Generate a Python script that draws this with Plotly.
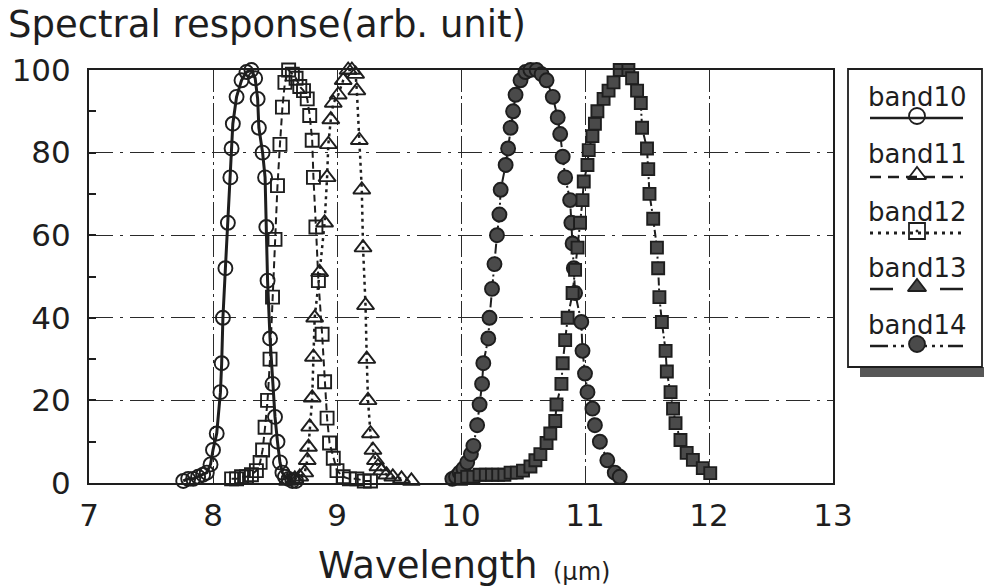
import plotly.graph_objects as go

# ---------------- data ----------------
band10_x = [7.76, 7.80, 7.84, 7.88, 7.92, 7.95, 7.98, 8.00, 8.03, 8.06, 8.07, 8.08, 8.10, 8.12, 8.14,
            8.15, 8.16, 8.19, 8.23, 8.27, 8.31, 8.34, 8.36, 8.37, 8.40, 8.42, 8.43, 8.44, 8.46, 8.48,
            8.50, 8.52, 8.54, 8.56, 8.58, 8.61, 8.64, 8.67]
band10_y = [0.5, 1, 1, 1.5, 2, 2.5, 4.5, 8, 12, 22, 29, 40, 52, 63, 74,
            81, 87, 93.5, 97.5, 99.5, 100, 98, 93, 86, 80, 74, 62, 49, 35, 24,
            16, 10, 5, 2.5, 1.5, 1, 0.5, 0.5]

band11_x = [8.15, 8.19, 8.23, 8.27, 8.31, 8.35, 8.38, 8.40, 8.42, 8.44, 8.46, 8.48, 8.50, 8.52, 8.54,
            8.56, 8.58, 8.61, 8.64, 8.67, 8.70, 8.73, 8.76, 8.78, 8.80, 8.81, 8.83, 8.85, 8.88, 8.90,
            8.92, 8.94, 8.97, 9.00, 9.05, 9.10, 9.16, 9.22, 9.27]
band11_y = [1, 1, 1.5, 1.5, 2, 3, 5, 8, 13.5, 20, 30, 45, 59, 72, 82,
            91, 97, 100, 99, 98, 96, 95, 93, 89, 83, 74, 62, 49, 36, 24.5,
            15.7, 9.7, 6, 3, 1.5, 1, 1, 0.5, 0.5]

band12_x = [8.60, 8.66, 8.70, 8.74, 8.76, 8.77, 8.78, 8.80, 8.81, 8.82, 8.86, 8.90, 8.92, 8.93, 8.95,
            8.97, 9.01, 9.05, 9.09, 9.12, 9.15, 9.16, 9.18, 9.20, 9.21, 9.23, 9.24, 9.25, 9.27, 9.29,
            9.31, 9.33, 9.36, 9.40, 9.45, 9.52, 9.60]
band12_y = [0.5, 1, 1.5, 2.5, 5.5, 8.7, 13.6, 20.6, 30.5, 40, 51, 63, 74, 82, 88,
            92, 94, 97.5, 100, 100, 99, 95, 83, 71, 57, 43, 30, 20, 12, 8,
            5.5, 4, 3, 2, 1.5, 1, 0.5]

band13_x = [9.93, 9.96, 9.99, 10.02, 10.05, 10.08, 10.10, 10.13, 10.15, 10.17, 10.18, 10.22, 10.23,
            10.25, 10.27, 10.29, 10.31, 10.32, 10.36, 10.38, 10.40, 10.42, 10.44, 10.48, 10.52, 10.56,
            10.61, 10.65, 10.69, 10.74, 10.78, 10.80, 10.82, 10.84, 10.88, 10.89, 10.90, 10.91, 10.92,
            10.97, 10.98, 11.00, 11.02, 11.06, 11.08, 11.12, 11.18, 11.24, 11.28]
band13_y = [1, 1.5, 2.5, 3.5, 5, 7, 9, 14, 19, 24, 29, 35, 40,
            47, 53, 60, 65, 71, 77, 81, 86, 90, 94, 97.5, 99.5, 100,
            100, 99, 97.5, 93.5, 88.5, 84.5, 79, 74, 68.5, 63, 58, 52, 46,
            39, 32, 26.5, 22, 18, 14, 10, 5.5, 2.5, 1.5]

band14_x = [10.00, 10.05, 10.10, 10.15, 10.20, 10.25, 10.30, 10.35, 10.40, 10.45, 10.50, 10.56, 10.60,
            10.64, 10.69, 10.72, 10.76, 10.77, 10.81, 10.82, 10.84, 10.86, 10.90, 10.92, 10.94, 10.96,
            10.98, 10.99, 11.02, 11.03, 11.06, 11.08, 11.10, 11.15, 11.19, 11.23, 11.28, 11.35, 11.38,
            11.42, 11.45, 11.46, 11.50, 11.51, 11.52, 11.55, 11.58, 11.59, 11.60, 11.62, 11.65, 11.66,
            11.69, 11.71, 11.73, 11.77, 11.82, 11.87, 11.95, 12.01]
band14_y = [1, 1.5, 1.5, 2, 2, 2, 2, 2, 2.5, 2.5, 3, 4, 5.5,
            7, 9.7, 12, 15, 19, 24, 29, 34.6, 40, 46, 51.6, 57, 63,
            68.5, 73, 77, 80.6, 84, 87, 90, 93, 95, 97, 100, 100, 98,
            95, 92, 86, 81, 76, 70, 64, 57, 52, 45, 39, 32, 27,
            22, 18, 14.5, 10.4, 7.3, 5.6, 3.6, 2.4]

x_ticks = [7, 8, 9, 10, 11, 12, 13]
y_ticks = [0, 20, 40, 60, 80, 100]
legend_names = ["band10", "band11", "band12", "band13", "band14"]

TITLE = "Spectral response(arb. unit)"
XTITLE = "Wavelength"
XUNIT = "(μm)"

# ---------------- layout geometry (pixels) ----------------
W, H = 984, 588
PL, PR, PT, PB = 89, 833, 70, 483
LL, LR, LT, LB = 848, 982, 69, 367
FONT = "DejaVu Sans"
INK = "#1e1e1e"
FILL = "#4a4a4a"


def fx(p):
    return p / W


def fy(p):
    return 1 - p / H


fig = go.Figure()

series = [
    (band10_x, band10_y, "solid", "circle-open", 14, False, 3),
    (band11_x, band11_y, "7px,4px", "square-open", 13, False, 2),
    (band12_x, band12_y, "3px,4px", "triangle-up-open", 15, False, 2.5),
    (band13_x, band13_y, "10px,3px,2px,3px", "circle", 14, True, 2),
    (band14_x, band14_y, "8px,3px,2px,3px", "square", 12, True, 2),
]
for xs, ys, dash, sym, size, filled, lw in series:
    fig.add_trace(go.Scatter(
        x=xs, y=ys, mode="lines+markers", showlegend=False, cliponaxis=False,
        line=dict(color=INK, width=lw, dash=dash),
        marker=dict(symbol=sym, size=size, color=(FILL if filled else INK),
                    line=dict(color=INK, width=1.9)),
        xaxis="x", yaxis="y"))

# ---------------- custom legend (text above a sample line) ----------------
leg_text_y = [97, 154, 212, 268, 325]
leg_line_y = [118, 177, 233, 289, 346]
leg_dash = ["solid", "11px,7px", "3px,5px", "23px,17px,14px,16px,23px,100px",
            "18px,5px,3px,5px,3px,5px"]
leg_sym = ["circle-open", "triangle-up-open", "square-open-dot", "triangle-up", "circle"]
leg_lw = [2.5, 2.5, 3, 2.5, 2.5]
for i, name in enumerate(legend_names):
    fig.add_trace(go.Scatter(
        x=[870, 963], y=[leg_line_y[i]] * 2, mode="lines", showlegend=False,
        line=dict(color=INK, width=leg_lw[i], dash=leg_dash[i]),
        xaxis="x2", yaxis="y2", cliponaxis=False, hoverinfo="skip"))
    filled = "open" not in leg_sym[i]
    fig.add_trace(go.Scatter(
        x=[917], y=[leg_line_y[i] - 2], mode="markers", showlegend=False,
        marker=dict(symbol=leg_sym[i], size=16,
                    color=(FILL if filled else INK),
                    line=dict(color=INK, width=1.8)),
        xaxis="x2", yaxis="y2", cliponaxis=False, hoverinfo="skip"))
    fig.add_annotation(text=name, x=fx(917), y=fy(leg_text_y[i]), xref="paper", yref="paper",
                       xanchor="center", yanchor="middle", showarrow=False,
                       font=dict(family=FONT, size=26, color=INK))

# legend frame and shadow
fig.add_shape(type="rect", xref="paper", yref="paper", x0=fx(860), x1=fx(984), y0=fy(377), y1=fy(LB),
              fillcolor="#575757", line=dict(width=0), layer="below")
fig.add_shape(type="rect", xref="paper", yref="paper", x0=fx(LL), x1=fx(LR), y0=fy(LB), y1=fy(LT),
              fillcolor="white", line=dict(color=INK, width=1.8), layer="below")

# titles
fig.add_annotation(text=TITLE, x=fx(6), y=fy(25), xref="paper", yref="paper",
                   xanchor="left", yanchor="middle", showarrow=False,
                   font=dict(family=FONT, size=37, color=INK))
fig.add_annotation(text=XTITLE, x=fx(316), y=fy(565), xref="paper", yref="paper",
                   xanchor="left", yanchor="middle", showarrow=False,
                   font=dict(family=FONT, size=37, color=INK))
fig.add_annotation(text=XUNIT, x=fx(551), y=fy(572), xref="paper", yref="paper",
                   xanchor="left", yanchor="middle", showarrow=False,
                   font=dict(family=FONT, size=24, color=INK))

grid_common = dict(showgrid=True, gridcolor="#2a2a2a", gridwidth=1, zeroline=False,
                   showline=True, linecolor=INK, linewidth=2, mirror=True, automargin=False)

fig.update_layout(
    width=W, height=H, margin=dict(l=0, r=0, t=0, b=0),
    paper_bgcolor="white", plot_bgcolor="rgba(0,0,0,0)",
    showlegend=False,
    xaxis=dict(domain=[fx(PL), fx(PR)], range=[7, 13], tickmode="array", tickvals=x_ticks,
               ticktext=[str(v) for v in x_ticks], griddash="22px,4px,3px,4px",
               ticks="", ticklabelstandoff=4,
               tickfont=dict(family=FONT, size=31, color=INK), **grid_common),
    yaxis=dict(domain=[fy(PB), fy(PT)], range=[0, 100], tickmode="array", tickvals=y_ticks,
               ticktext=[str(v) for v in y_ticks], griddash="24px,7px,3px,7px",
               ticks="inside", ticklen=7, tickwidth=1.5, tickcolor=INK, ticklabelstandoff=10,
               minor=dict(dtick=10, tick0=0, ticks="inside", ticklen=7, tickwidth=1.5,
                          tickcolor=INK, showgrid=False),
               tickfont=dict(family=FONT, size=31, color=INK), **grid_common),
    xaxis2=dict(domain=[fx(LL), fx(LR)], range=[LL, LR], visible=False, fixedrange=True),
    yaxis2=dict(domain=[fy(LB), fy(LT)], range=[LB, LT], visible=False, fixedrange=True),
)

fig.write_html("out.html")
